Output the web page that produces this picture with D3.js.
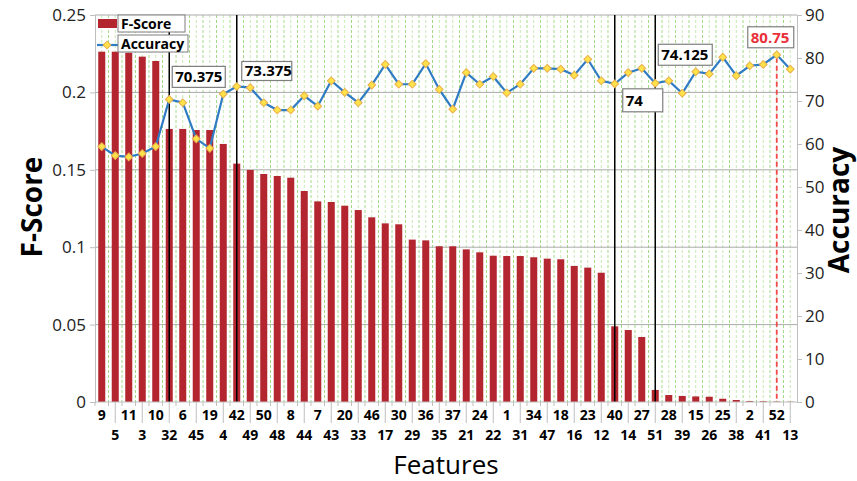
<!DOCTYPE html>
<html>
<head>
<meta charset="utf-8">
<script src="https://cdn.jsdelivr.net/npm/d3@7"></script>
<style>
  body { margin: 0; background: #fff; }
  text { font-family: "Open Sans", "Noto Sans", sans-serif; }
</style>
</head>
<body>
<script>
// feature order (sorted by F-score)
var features = [9,5,11,3,10,32,6,45,19,4,42,49,50,48,8,44,7,43,20,33,46,17,30,29,36,35,37,21,24,22,1,31,34,47,18,16,23,12,40,14,27,51,28,39,15,26,25,38,2,41,52,13];

var fScore = [0.2263,0.2263,0.2256,0.2231,0.2203,0.1764,0.1764,0.1757,0.1757,0.1667,
  0.1540,0.1499,0.1473,0.1460,0.1449,0.1363,0.1296,0.1292,0.1268,0.1240,
  0.1193,0.1154,0.1148,0.1049,0.1044,0.1006,0.1006,0.0986,0.0967,0.0945,
  0.0943,0.0943,0.0935,0.0926,0.0922,0.0879,0.0868,0.0835,0.0489,0.0465,
  0.0420,0.0078,0.0045,0.0039,0.0036,0.0034,0.0021,0.0013,0.0006,0.0005,
  0.0003,0.0002];

var accuracy = [59.4,57.3,57.0,57.8,59.4,70.375,69.6,61.2,59.0,71.6,
  73.375,73.1,69.6,67.9,67.9,71.2,68.8,74.7,72.0,69.6,
  73.7,78.5,73.9,73.9,78.7,72.7,68.1,76.6,73.9,75.7,
  71.9,73.9,77.6,77.6,77.4,76.0,79.7,74.7,74.0,76.6,
  77.6,74.125,74.7,71.8,76.8,76.3,80.2,75.9,78.2,78.5,
  80.75,77.4];

var fTicks = [0,0.05,0.1,0.15,0.2,0.25];
var accTicks = [0,10,20,30,40,50,60,70,80,90];

// marked points: index into features, label text
var marks = [
  {i: 5, text: "70.375", dx: 3, dy: -33, w: 53, h: 21},
  {i: 10, text: "73.375", dx: 5, dy: -25, w: 50, h: 19},
  {i: 38, text: "74", dx: 8, dy: 5, w: 40, h: 23},
  {i: 41, text: "74.125", dx: 3, dy: -39, w: 54, h: 21}
];
var best = {i: 50, text: "80.75", dx: -29, dy: -28, w: 46, h: 21};

var W = 857, H = 481;
var mLeft = 95, mRight = 797, mTop = 15, mBottom = 402;

var svg = d3.select("body").append("svg")
  .attr("width", W)
  .attr("height", H);

var x = d3.scaleBand()
  .domain(d3.range(features.length))
  .range([mLeft, mRight])
  .paddingInner(0.48)
  .paddingOuter(0.24);

var step = x.step();
function cx(i) { return x(i) + x.bandwidth()/2; }

var yF = d3.scaleLinear().domain([0, 0.25]).range([mBottom, mTop]);
var yA = d3.scaleLinear().domain([0, 90]).range([mBottom, mTop]);

// green dashed vertical grid, at category centers and edges
var gx = [];
d3.range(features.length).forEach(function(i) {
  gx.push({x: cx(i) - step/2, major: true});
  gx.push({x: cx(i), major: false});
});
svg.append("g").selectAll("line")
  .data(gx.slice(1))
  .enter().append("line")
  .attr("x1", function(d) { return d.x; })
  .attr("x2", function(d) { return d.x; })
  .attr("y1", mTop)
  .attr("y2", mBottom)
  .style("stroke", function(d) { return d.major ? "#a3da86" : "#c6e9b4"; })
  .style("stroke-width", 1)
  .style("stroke-dasharray", "3,2");

// horizontal grid from left axis
svg.append("g").selectAll("line")
  .data(fTicks.slice(1))
  .enter().append("line")
  .attr("x1", mLeft)
  .attr("x2", mRight)
  .attr("y1", function(d) { return yF(d); })
  .attr("y2", function(d) { return yF(d); })
  .style("stroke", "#ababab")
  .style("stroke-width", 1);

// bars
svg.append("g").selectAll("rect")
  .data(fScore)
  .enter().append("rect")
  .attr("x", function(d, i) { return x(i); })
  .attr("width", x.bandwidth())
  .attr("y", function(d) { return yF(d); })
  .attr("height", function(d) { return mBottom - yF(d); })
  .style("fill", "#b3262f");

// vertical marker lines
svg.append("g").selectAll("line")
  .data(marks)
  .enter().append("line")
  .attr("x1", function(d) { return cx(d.i); })
  .attr("x2", function(d) { return cx(d.i); })
  .attr("y1", mTop)
  .attr("y2", mBottom)
  .style("stroke", "#000")
  .style("stroke-width", 1.5);

svg.append("line")
  .attr("x1", cx(best.i))
  .attr("x2", cx(best.i))
  .attr("y1", yA(accuracy[best.i]) + 3)
  .attr("y2", mBottom)
  .style("stroke", "#f04a4a")
  .style("stroke-width", 1.8)
  .style("stroke-dasharray", "5,3");

// axes
svg.append("g")
  .attr("transform", "translate(" + mLeft + ",0)")
  .call(d3.axisLeft(yF).tickValues(fTicks).tickSize(5)
    .tickFormat(function(d) { return String(+d.toFixed(2)); }))
  .call(function(g) {
    g.select(".domain").style("stroke", "#bfbfbf");
    g.selectAll(".tick line").style("stroke", "#bfbfbf");
    g.selectAll("text").style("font-size", "17px").style("fill", "#222").attr("x", -9);
  });

svg.append("g")
  .attr("transform", "translate(" + mRight + ",0)")
  .call(d3.axisRight(yA).tickValues(accTicks).tickSize(5))
  .call(function(g) {
    g.select(".domain").style("stroke", "#bfbfbf");
    g.selectAll(".tick line").style("stroke", "#bfbfbf");
    g.selectAll("text").style("font-size", "17px").style("fill", "#222").attr("x", 8);
  });

// x axis line + staggered category labels
svg.append("line")
  .attr("x1", mLeft).attr("x2", mRight)
  .attr("y1", mBottom).attr("y2", mBottom)
  .style("stroke", "#bfbfbf");

svg.append("g").selectAll("line")
  .data(d3.range(features.length))
  .enter().append("line")
  .attr("x1", function(i) { return cx(i) - step/2; })
  .attr("x2", function(i) { return cx(i) - step/2; })
  .attr("y1", mBottom)
  .attr("y2", mBottom + 4)
  .style("stroke", "#bfbfbf");

svg.append("g").selectAll("line")
  .data(d3.range(1, features.length, 2))
  .enter().append("line")
  .attr("x1", function(i) { return cx(i); })
  .attr("x2", function(i) { return cx(i); })
  .attr("y1", mBottom)
  .attr("y2", mBottom + 21)
  .style("stroke", "#bfbfbf");

svg.append("g").selectAll("text")
  .data(features)
  .enter().append("text")
  .attr("x", function(d, i) { return cx(i); })
  .attr("y", function(d, i) { return i % 2 === 0 ? 420 : 440; })
  .attr("text-anchor", "middle")
  .style("font-size", "14px")
  .style("font-weight", "bold")
  .style("fill", "#000")
  .text(function(d) { return d; });

// accuracy line
var line = d3.line()
  .x(function(d, i) { return cx(i); })
  .y(function(d) { return yA(d); });

svg.append("path")
  .datum(accuracy)
  .attr("d", line)
  .style("fill", "none")
  .style("stroke", "#2f7bc4")
  .style("stroke-width", 2.2);

// square markers turned 45deg
var marker = d3.symbol().type(d3.symbolSquare).size(30);
svg.append("g").selectAll("path")
  .data(accuracy)
  .enter().append("path")
  .attr("d", marker)
  .attr("transform", function(d, i) { return "translate(" + cx(i) + "," + yA(d) + ") rotate(45)"; })
  .style("fill", "#ffe24a")
  .style("stroke", "#e8b04a")
  .style("stroke-width", 1);

// annotation boxes
function addBox(m, color) {
  var px = cx(m.i), py = yA(accuracy[m.i]);
  var g = svg.append("g").attr("transform", "translate(" + (px + m.dx) + "," + (py + m.dy) + ")");
  g.append("rect")
    .attr("width", m.w).attr("height", m.h)
    .style("fill", "#fff")
    .style("stroke", "#7f7f7f")
    .style("stroke-width", 1.2);
  g.append("text")
    .attr("x", 3).attr("y", m.h/2 + 5.5)
    .style("font-size", "15px")
    .style("font-weight", "bold")
    .style("fill", color)
    .text(m.text);
}
marks.forEach(function(m) { addBox(m, "#000"); });
addBox(best, "#e8303a");

// legend
var lg = svg.append("g");
lg.append("rect").attr("x", 98).attr("y", 19).attr("width", 19).attr("height", 9).style("fill", "#b3262f");
lg.append("rect").attr("x", 118).attr("y", 15).attr("width", 67).attr("height", 17)
  .style("fill", "#fff").style("stroke", "#7f7f7f");
lg.append("text").attr("x", 121).attr("y", 29).style("font-size", "14px").style("font-weight", "bold").text("F-Score");
lg.append("line").attr("x1", 97).attr("x2", 118).attr("y1", 45).attr("y2", 45)
  .style("stroke", "#2f7bc4").style("stroke-width", 2.2);
lg.append("path").attr("d", marker).attr("transform", "translate(107,45) rotate(45)")
  .style("fill", "#ffe24a").style("stroke", "#e8b04a");
lg.append("rect").attr("x", 118).attr("y", 35).attr("width", 70).attr("height", 17)
  .style("fill", "#fff").style("stroke", "#7f7f7f");
lg.append("text").attr("x", 121).attr("y", 49).style("font-size", "14px").style("font-weight", "bold").text("Accuracy");

// axis titles
svg.append("text")
  .attr("x", 446).attr("y", 474)
  .attr("text-anchor", "middle")
  .style("font-size", "26px")
  .text("Features");

svg.append("text")
  .attr("transform", "translate(42,207) rotate(-90)")
  .attr("text-anchor", "middle")
  .style("font-size", "28px")
  .style("font-weight", "bold")
  .text("F-Score");

svg.append("text")
  .attr("transform", "translate(849,210) rotate(-90)")
  .attr("text-anchor", "middle")
  .style("font-size", "28px")
  .style("font-weight", "bold")
  .text("Accuracy");
</script>
</body>
</html>
